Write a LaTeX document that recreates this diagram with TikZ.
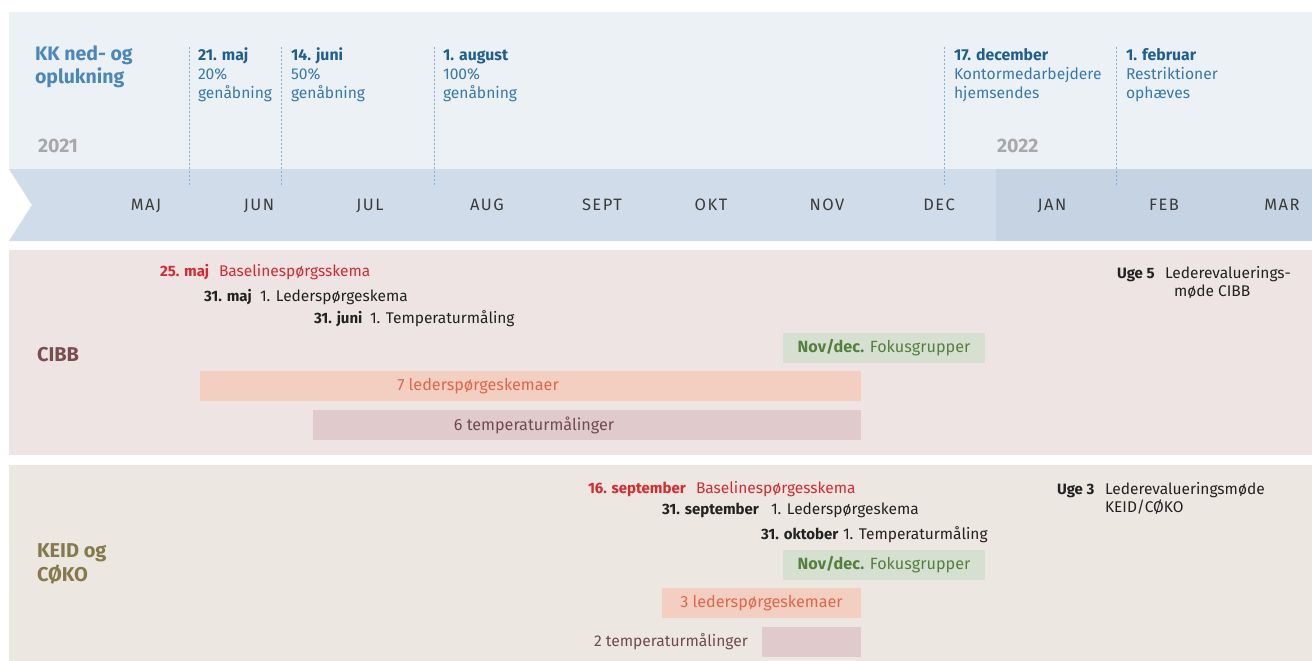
\documentclass[tikz,border=0pt]{standalone}
\usepackage{fontspec}
\setmainfont{Fira Sans}
\newfontfamily\monthfont[LetterSpace=9]{Fira Sans}
\definecolor{topbg}{HTML}{ECF1F6}
\definecolor{barbg}{HTML}{D0DCE9}
\definecolor{bardark}{HTML}{C6D3E3}
\definecolor{guide}{HTML}{7DB3DA}
\definecolor{evhead}{HTML}{1F5E8E}
\definecolor{evtext}{HTML}{3778AE}
\definecolor{kktitle}{HTML}{4C87B9}
\definecolor{yeargray}{HTML}{A8A8A8}
\definecolor{monthtxt}{HTML}{3B3B3B}
\definecolor{cibbbg}{HTML}{EDE4E3}
\definecolor{keidbg}{HTML}{ECE7E0}
\definecolor{redtxt}{HTML}{D42A30}
\definecolor{darktxt}{HTML}{222222}
\definecolor{cibblbl}{HTML}{7A4E4E}
\definecolor{keidlbl}{HTML}{857A4C}
\definecolor{greenbox}{HTML}{D6E0D0}
\definecolor{greentxt}{HTML}{557F3E}
\definecolor{orangebox}{HTML}{F3CFC1}
\definecolor{orangetxt}{HTML}{E0654B}
\definecolor{mauvebox}{HTML}{E0CACB}
\definecolor{mauvetxt}{HTML}{6F4B4F}
\tikzset{
  every node/.style={inner sep=0pt, outer sep=0pt},
  guideline/.style={draw=guide, line width=1pt, dash pattern=on 2pt off 2pt},
  month/.style={anchor=base, text=monthtxt, font=\monthfont\fontsize{16.5}{19}\selectfont},
  evdate/.style={anchor=base west, text=evhead, font=\bfseries\fontsize{15.8}{18}\selectfont},
  evline/.style={anchor=base west, text=evtext, font=\fontsize{15.6}{18}\selectfont},
  year/.style={anchor=base west, text=yeargray, font=\bfseries\fontsize{19.5}{22}\selectfont},
  grouplbl/.style={anchor=base west, font=\bfseries\fontsize{20}{24}\selectfont},
  pdate/.style={anchor=base west, text=darktxt, font=\bfseries\fontsize{15}{18}\selectfont},
  ptext/.style={anchor=base west, text=darktxt, font=\fontsize{15.5}{18}\selectfont},
  bar/.style={anchor=north west, minimum height=30pt},
  boxtext/.style={anchor=center, font=\fontsize{16.2}{19}\selectfont},
}
\begin{document}
\begin{tikzpicture}[x=1pt,y=-1pt]
\useasboundingbox (0,0) rectangle (1312,661);
\fill[white] (0,0) rectangle (1312,661);
% top band
\fill[topbg] (9,12) rectangle (1312,169);
\fill[barbg] (9,169) -- (1312,169) -- (1312,241) -- (9,241) -- (32,205) -- cycle;
\fill[bardark] (996,169) rectangle (1312,241);
% panels
\fill[cibbbg] (9,250) rectangle (1312,455);
\fill[keidbg] (9,465) rectangle (1312,661);

% guide lines
\foreach \n/\x in {g1/189, g2/281, g3/434, g4/944, g5/1116}{
  \coordinate (\n t) at (\x,47);
  \coordinate (\n b) at (\x,185);
  \draw[guideline] (\n t) -- (\n b);
}

% title and years
\node[anchor=base west, text=kktitle, font=\bfseries\fontsize{19.5}{24}\selectfont] (kk1) at (35,61) {KK ned- og};
\node[anchor=base west, text=kktitle, font=\bfseries\fontsize{19.5}{24}\selectfont] (kk2) at (35,84) {oplukning};
\node[year] (y2021) at (38,152) {2021};
\node[year] (y2022) at (997,152) {2022};

% events
\node[evdate] (e1h) at (198,60) {21. maj};
\node[evline] (e1a) at (198,80) {20\%};
\node[evline] (e1b) at (198,99) {genåbning};
\node[evdate] (e2h) at (291,60) {14. juni};
\node[evline] (e2a) at (291,80) {50\%};
\node[evline] (e2b) at (291,99) {genåbning};
\node[evdate] (e3h) at (443,60) {1. august};
\node[evline] (e3a) at (443,80) {100\%};
\node[evline] (e3b) at (443,99) {genåbning};
\node[evdate] (e4h) at (954,60) {17. december};
\node[evline] (e4a) at (954,80) {Kontormedarbejdere};
\node[evline] (e4b) at (954,99) {hjemsendes};
\node[evdate] (e5h) at (1126,60) {1. februar};
\node[evline] (e5a) at (1126,80) {Restriktioner};
\node[evline] (e5b) at (1126,99) {ophæves};

% months
\node[month] (mMAJ) at (146,210) {MAJ};
\node[month] (mJUN) at (259,210) {JUN};
\node[month] (mJUL) at (370,210) {JUL};
\node[month] (mAUG) at (487,210) {AUG};
\node[month] (mSEP) at (602,210) {SEPT};
\node[month] (mOKT) at (711,210) {OKT};
\node[month] (mNOV) at (827,210) {NOV};
\node[month] (mDEC) at (939,210) {DEC};
\node[month] (mJAN) at (1052,210) {JAN};
\node[month] (mFEB) at (1164,210) {FEB};
\node[month] (mMAR) at (1282,210) {MAR};

% CIBB panel
\node[grouplbl, text=cibblbl] (cibb) at (37,361) {CIBB};
\node[pdate, text=redtxt] (c1d) at (160,276) {25. maj};
\node[ptext, text=redtxt] (c1t) at (219,276) {Baselinespørgsskema};
\node[pdate] (c2d) at (204,301) {31. maj};
\node[ptext] (c2t) at (260,301) {1. Lederspørgeskema};
\node[pdate] (c3d) at (314,323) {31. juni};
\node[ptext] (c3t) at (370,323) {1. Temperaturmåling};
\node[pdate] (c4d) at (1117,278) {Uge 5};
\node[ptext] (c4t) at (1165,278) {Lederevaluerings-};
\node[ptext] (c4u) at (1174,296) {møde CIBB};

\node[bar, fill=greenbox, minimum width=202pt] (cfok) at (783,333) {};
\node[boxtext, text=greentxt] (cfokt) at (cfok.center) {\textbf{Nov/dec.} Fokusgrupper};
\node[bar, fill=orangebox, minimum width=661pt] (cled) at (200,371) {};
\node[boxtext, text=orangetxt] (cledt) at (478,386) {7 lederspørgeskemaer};
\node[bar, fill=mauvebox, minimum width=548pt] (ctmp) at (313,410) {};
\node[boxtext, text=mauvetxt] (ctmpt) at (534,425) {6 temperaturmålinger};

% KEID panel
\node[grouplbl, text=keidlbl] (keid1) at (37,557) {KEID og};
\node[grouplbl, text=keidlbl] (keid2) at (37,581) {CØKO};
\node[pdate, text=redtxt] (k1d) at (588,493) {16. september};
\node[ptext, text=redtxt] (k1t) at (696,493) {Baselinespørgesskema};
\node[pdate] (k2d) at (662,514) {31. september};
\node[ptext] (k2t) at (771,514) {1. Lederspørgeskema};
\node[pdate] (k3d) at (761,539) {31. oktober};
\node[ptext] (k3t) at (843,539) {1. Temperaturmåling};
\node[pdate] (k4d) at (1057,494) {Uge 3};
\node[ptext] (k4t) at (1105,494) {Lederevalueringsmøde};
\node[ptext] (k4u) at (1105,512) {KEID/CØKO};

\node[bar, fill=greenbox, minimum width=202pt] (kfok) at (783,550) {};
\node[boxtext, text=greentxt] (kfokt) at (kfok.center) {\textbf{Nov/dec.} Fokusgrupper};
\node[bar, fill=orangebox, minimum width=199pt] (kled) at (662,588) {};
\node[boxtext, text=orangetxt] (kledt) at (kled.center) {3 lederspørgeskemaer};
\node[bar, fill=mauvebox, minimum width=99pt] (ktmp) at (762,627) {};
\node[anchor=base west, text=mauvetxt, font=\fontsize{15.6}{18}\selectfont] (ktmpt) at (594,646) {2 temperaturmålinger};
\end{tikzpicture}
\end{document}
